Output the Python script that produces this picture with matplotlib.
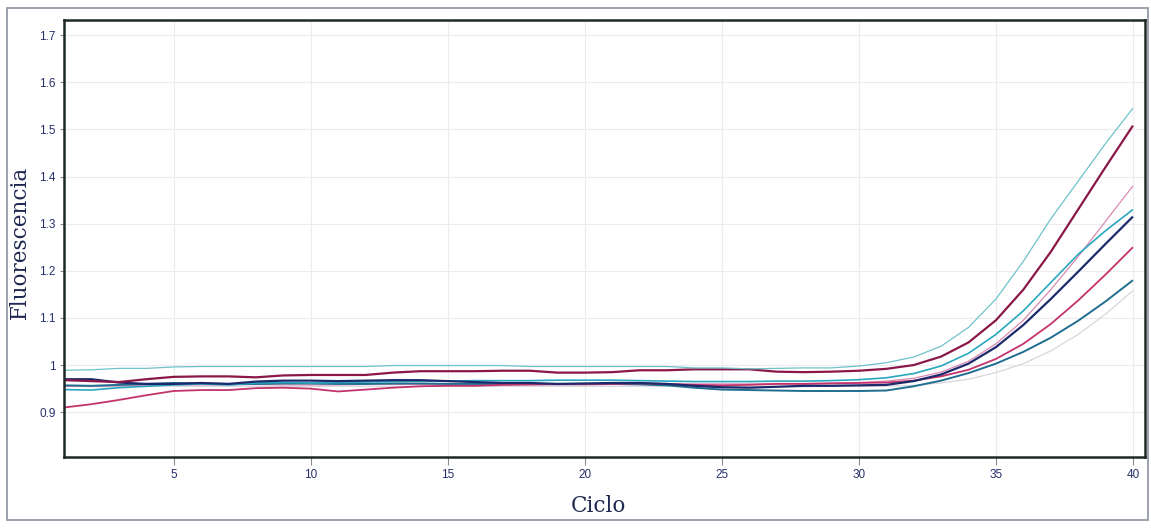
import matplotlib.pyplot as plt
import matplotlib.patches as patches
import numpy as np
from matplotlib.ticker import FuncFormatter

#---------------------------------------------------------------------------
#                               DATA
#---------------------------------------------------------------------------

ciclos = np.arange(1, 41)

# amplification curves, one per well
pozo_a = [0.989, 0.990, 0.993, 0.993, 0.996, 0.997, 0.997, 0.997, 0.997, 0.997,
          0.997, 0.997, 0.999, 0.999, 0.999, 0.999, 0.999, 0.997, 0.997, 0.997,
          0.997, 0.997, 0.997, 0.994, 0.994, 0.992, 0.993, 0.994, 0.994, 0.998,
          1.005, 1.017, 1.040, 1.080, 1.140, 1.220, 1.310, 1.390, 1.470, 1.545]

pozo_b = [0.968, 0.966, 0.964, 0.970, 0.975, 0.976, 0.976, 0.974, 0.978, 0.979,
          0.979, 0.979, 0.984, 0.987, 0.987, 0.987, 0.988, 0.988, 0.984, 0.984,
          0.985, 0.989, 0.989, 0.991, 0.991, 0.991, 0.986, 0.985, 0.986, 0.988,
          0.992, 1.000, 1.018, 1.048, 1.095, 1.160, 1.240, 1.330, 1.420, 1.508]

pozo_c = [0.955, 0.955, 0.956, 0.957, 0.958, 0.958, 0.958, 0.959, 0.958, 0.958,
          0.958, 0.959, 0.959, 0.959, 0.958, 0.958, 0.958, 0.958, 0.958, 0.958,
          0.959, 0.959, 0.959, 0.960, 0.960, 0.960, 0.961, 0.961, 0.962, 0.963,
          0.966, 0.972, 0.985, 1.008, 1.045, 1.095, 1.160, 1.230, 1.305, 1.380]

pozo_d = [0.948, 0.947, 0.952, 0.955, 0.958, 0.960, 0.958, 0.962, 0.963, 0.962,
          0.963, 0.964, 0.965, 0.966, 0.966, 0.967, 0.967, 0.967, 0.968, 0.968,
          0.968, 0.967, 0.966, 0.965, 0.965, 0.965, 0.966, 0.966, 0.967, 0.969,
          0.973, 0.982, 0.998, 1.025, 1.065, 1.115, 1.175, 1.235, 1.285, 1.330]

pozo_e = [0.970, 0.970, 0.963, 0.960, 0.960, 0.962, 0.960, 0.965, 0.967, 0.967,
          0.966, 0.967, 0.968, 0.968, 0.966, 0.964, 0.962, 0.962, 0.960, 0.961,
          0.962, 0.962, 0.960, 0.956, 0.953, 0.952, 0.954, 0.956, 0.956, 0.957,
          0.958, 0.966, 0.980, 1.003, 1.038, 1.085, 1.140, 1.198, 1.257, 1.315]

pozo_f = [0.910, 0.917, 0.926, 0.936, 0.945, 0.947, 0.947, 0.951, 0.952, 0.950,
          0.944, 0.948, 0.952, 0.955, 0.956, 0.956, 0.958, 0.959, 0.960, 0.960,
          0.960, 0.961, 0.960, 0.958, 0.957, 0.958, 0.960, 0.960, 0.961, 0.962,
          0.963, 0.967, 0.976, 0.990, 1.013, 1.045, 1.087, 1.137, 1.192, 1.250]

pozo_g = [0.957, 0.956, 0.958, 0.960, 0.962, 0.961, 0.960, 0.960, 0.961, 0.961,
          0.960, 0.960, 0.961, 0.961, 0.960, 0.960, 0.960, 0.960, 0.960, 0.960,
          0.960, 0.959, 0.957, 0.952, 0.948, 0.947, 0.946, 0.945, 0.945, 0.945,
          0.946, 0.955, 0.967, 0.983, 1.003, 1.028, 1.058, 1.094, 1.135, 1.180]

pozo_h = [0.955, 0.954, 0.954, 0.955, 0.955, 0.955, 0.955, 0.955, 0.955, 0.955,
          0.955, 0.955, 0.955, 0.955, 0.955, 0.955, 0.955, 0.955, 0.955, 0.955,
          0.955, 0.955, 0.955, 0.954, 0.954, 0.954, 0.954, 0.954, 0.955, 0.955,
          0.955, 0.957, 0.962, 0.970, 0.984, 1.003, 1.030, 1.065, 1.108, 1.158]

# drawing order: faint curves first
curvas = [
    (pozo_h, '#d6d6de', 0.9),
    (pozo_c, '#d98ab2', 0.9),
    (pozo_g, '#1f6e8f', 1.4),
    (pozo_f, '#c3336b', 1.3),
    (pozo_d, '#2aa7c0', 1.2),
    (pozo_e, '#1c2a6c', 1.6),
    (pozo_b, '#8a1747', 1.6),
    (pozo_a, '#6fc2ca', 0.9),
]

#---------------------------------------------------------------------------
#                               FIGURE
#---------------------------------------------------------------------------

fig = plt.figure(figsize=(11.51, 5.29), dpi=100)
ax = fig.add_axes([64/1151, 1 - 457/529, 1081/1151, 437/529])

for valores, color, grosor in curvas:
    ax.plot(ciclos, valores, color=color, linewidth=grosor, solid_capstyle='butt')

ax.set_xlim(1, 40.44)
ax.set_ylim(0.805, 1.732)

ax.set_xticks(np.arange(5, 41, 5))
ax.set_yticks(np.round(np.arange(0.9, 1.71, 0.1), 1))
ax.yaxis.set_major_formatter(FuncFormatter(lambda v, p: '%g' % v))

ax.grid(True, color='#ececf0', linewidth=0.8)
ax.set_axisbelow(True)

texto = '#27306a'
ax.tick_params(axis='both', labelsize=8.5, labelcolor=texto, color='#8a8a90')
ax.tick_params(axis='x', length=6, width=0.8, pad=3)
ax.tick_params(axis='y', length=3, width=0.8, pad=3)
for lab in ax.get_xticklabels() + ax.get_yticklabels():
    lab.set_family('Liberation Sans')

for lado in ax.spines.values():
    lado.set_color('#1d2828')
    lado.set_linewidth(1.8)

ax.set_ylabel('Fluorescencia', family='DejaVu Serif', fontsize=15.5, color='#1f2850')
ax.yaxis.set_label_coords(-0.0305, 0.49)
ax.set_xlabel('Ciclo', family='DejaVu Serif', fontsize=15.5, color='#1f2850')
ax.xaxis.set_label_coords(0.494, -0.087)

# thin outer frame
marco = patches.Rectangle((7/1151, 1 - 520/529), 1141/1151, 512/529,
                          transform=fig.transFigure, fill=False,
                          edgecolor='#8c90a0', linewidth=1.2)
fig.patches.append(marco)

plt.savefig('out.png', dpi=100)
plt.close()
